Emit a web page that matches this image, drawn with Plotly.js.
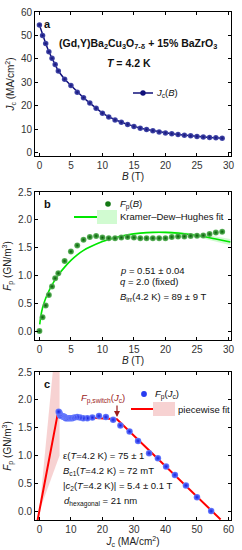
<!DOCTYPE html>
<html><head><meta charset="utf-8">
<script src="https://cdn.plot.ly/plotly-3.0.1.min.js"></script>
<style>html,body{margin:0;padding:0;background:#fff}#chart{width:242px;height:550px}</style>
</head><body><div id="chart"></div>
<script>
// Magnetic field B (T)
const B = [0, 0.5, 1, 1.5, 2, 2.5, 3, 4, 5, 6, 7, 8, 9, 10, 11, 12, 13, 14, 15, 16, 17, 18, 19, 20, 21, 22, 23, 24, 25, 26, 27, 28, 29];
// Critical current density Jc (MA/cm^2)
const Jc = [54.5, 50.0, 46.5, 43.0, 40.2, 37.6, 34.8, 31.3, 28.6, 25.7, 23.4, 21.1, 18.9, 16.8, 15.2, 13.9, 12.9, 12.0, 11.1, 10.4, 9.8, 9.3, 8.8, 8.35, 8.0, 7.7, 7.4, 7.1, 6.85, 6.6, 6.45, 6.3, 6.1];
// Pinning force Fp (GN/m^3)
const Fp = [0, 0.25, 0.46, 0.65, 0.80, 0.95, 1.04, 1.26, 1.43, 1.54, 1.64, 1.69, 1.71, 1.68, 1.67, 1.67, 1.68, 1.69, 1.68, 1.67, 1.67, 1.67, 1.67, 1.67, 1.69, 1.70, 1.70, 1.71, 1.715, 1.72, 1.745, 1.77, 1.785];
// Kramer-Dew-Hughes fit curve
const kdhB  = [0.05, 0.2, 0.5, 1, 1.5, 2, 3, 4, 5, 6, 7, 8, 10, 12, 14, 16, 18, 20, 22, 24, 26, 28, 30.3];
const kdhFp = [0.12, 0.25, 0.42, 0.59, 0.72, 0.83, 1.01, 1.15, 1.27, 1.37, 1.45, 1.51, 1.61, 1.68, 1.73, 1.76, 1.775, 1.775, 1.76, 1.735, 1.70, 1.655, 1.60];
const kdhHi = [0.13, 0.26, 0.43, 0.60, 0.73, 0.84, 1.02, 1.16, 1.28, 1.38, 1.46, 1.52, 1.62, 1.69, 1.74, 1.772, 1.79, 1.795, 1.785, 1.765, 1.735, 1.70, 1.655];
const kdhLo = [0.11, 0.24, 0.41, 0.58, 0.71, 0.82, 1.00, 1.14, 1.26, 1.36, 1.44, 1.50, 1.60, 1.67, 1.72, 1.748, 1.76, 1.755, 1.735, 1.705, 1.665, 1.61, 1.545];
// Piecewise fit (Jc, Fp)
const pwJc = [-0.6, 5.7, 24.6, 57.5];
const pwFp = [-0.17, 1.715, 1.65, -0.15];
const pwBandJc = [0, 4.4, 6.4, 6.4, 0];
const pwBandFp = [0, 2.6, 2.6, 1.0, 0];

const FONT = "'Liberation Sans', Arial, sans-serif";
const L = 35, R = 11, T = 12, BM = 30, W = 242, H = 550;
const PW = W - L - R, PH = H - T - BM;
const px = x => (x - L) / PW;
const py = y => 1 - (y - T) / PH;

const navy = '#10107a';
const traces = [
  {x: B, y: Jc, xaxis: 'x', yaxis: 'y', mode: 'lines+markers', type: 'scatter',
   line: {color: navy, width: 1.5},
   marker: {size: 5.5, color: 'rgb(75,80,175)', gradient: {type: 'radial', color: navy}, line: {width: 0}}},
  {x: kdhB, y: kdhHi, xaxis: 'x2', yaxis: 'y2', mode: 'lines', type: 'scatter', line: {width: 0, color: 'rgba(0,0,0,0)'}},
  {x: kdhB, y: kdhLo, xaxis: 'x2', yaxis: 'y2', mode: 'lines', type: 'scatter', line: {width: 0, color: 'rgba(0,0,0,0)'},
   fill: 'tonexty', fillcolor: 'rgba(190,250,190,0.7)'},
  {x: kdhB, y: kdhFp, xaxis: 'x2', yaxis: 'y2', mode: 'lines', type: 'scatter', line: {color: 'rgb(0,230,0)', width: 1.6, shape: 'spline'}},
  {x: B, y: Fp, xaxis: 'x2', yaxis: 'y2', mode: 'markers', type: 'scatter',
   marker: {size: 6, color: 'rgb(100,185,100)', gradient: {type: 'radial', color: 'rgb(0,95,0)'}, line: {width: 0}}},
  {x: pwBandJc, y: pwBandFp, xaxis: 'x3', yaxis: 'y3', mode: 'lines', type: 'scatter', fill: 'toself',
   fillcolor: 'rgba(242,180,180,0.6)', line: {width: 0, color: 'rgba(0,0,0,0)'}},
  {x: pwJc, y: pwFp, xaxis: 'x3', yaxis: 'y3', mode: 'lines', type: 'scatter', line: {color: '#ff0000', width: 2}},
  {x: Jc, y: Fp, xaxis: 'x3', yaxis: 'y3', mode: 'markers', type: 'scatter',
   marker: {size: 6.5, color: 'rgb(110,130,255)', gradient: {type: 'radial', color: 'rgb(20,30,225)'}, line: {width: 0}}}
];

const axBase = {showline: true, linecolor: '#000', linewidth: 1, mirror: 'ticks', ticks: 'inside', ticklen: 3,
  tickwidth: 1, tickcolor: '#000', showgrid: false, zeroline: false,
  tickfont: {family: FONT, size: 10, color: '#333'}};
const ttl = t => ({text: t, font: {family: FONT, size: 10, color: '#222'}});

const layout = {
  width: W, height: H, margin: {l: L, r: R, t: T, b: BM}, showlegend: false,
  paper_bgcolor: '#fff', plot_bgcolor: '#fff', font: {family: FONT},
  xaxis: Object.assign({}, axBase, {domain: [0, 1], anchor: 'y', range: [-0.7, 30.4], tickvals: [0,5,10,15,20,25,30], title: Object.assign(ttl('<i>B</i> (T)'), {standoff: 2})}),
  yaxis: Object.assign({}, axBase, {domain: [py(156), 1], anchor: 'x', range: [-1.5, 60], tickvals: [0,10,20,30,40,50,60], title: Object.assign(ttl('<i>J</i><sub>c</sub> (MA/cm<sup>2</sup>)'), {standoff: 4})}),
  xaxis2: Object.assign({}, axBase, {domain: [0, 1], anchor: 'y2', range: [-0.7, 30.4], tickvals: [0,5,10,15,20,25,30], title: Object.assign(ttl('<i>B</i> (T)'), {standoff: 2})}),
  yaxis2: Object.assign({}, axBase, {domain: [py(340), py(192)], anchor: 'x2', range: [-0.16, 2.5], tickvals: [0,0.5,1,1.5,2,2.5], tickformat: '.1f', title: Object.assign(ttl('<i>F</i><sub>p</sub> (GN/m<sup>3</sup>)'), {standoff: 4})}),
  xaxis3: Object.assign({}, axBase, {domain: [0, 1], anchor: 'y3', range: [-1.4, 60.8], tickvals: [0,10,20,30,40,50,60], title: Object.assign(ttl('<i>J</i><sub>c</sub> (MA/cm<sup>2</sup>)'), {standoff: 2})}),
  yaxis3: Object.assign({}, axBase, {domain: [0, py(372)], anchor: 'x3', range: [-0.16, 2.5], tickvals: [0,0.5,1,1.5,2,2.5], tickformat: '.1f', title: Object.assign(ttl('<i>F</i><sub>p</sub> (GN/m<sup>3</sup>)'), {standoff: 4})}),
  annotations: [],
  shapes: []
};

function ann(text, x, y, o) {
  o = o || {};
  layout.annotations.push({text: text, x: px(x), y: py(y), xref: 'paper', yref: 'paper', showarrow: false,
    xanchor: o.xa || 'left', yanchor: 'middle', borderpad: 0,
    font: {family: FONT, size: o.size || 9.5, color: o.color || '#111'}});
}
ann('<b>a</b>', 47, 24, {xa: 'center', size: 11});
ann('<b>(Gd,Y)Ba<sub>2</sub>Cu<sub>3</sub>O<sub>7-δ</sub> + 15% BaZrO<sub>3</sub></b>', 138, 44, {xa: 'center', size: 10.5});
ann('<b><i>T</i> = 4.2 K</b>', 129, 63, {xa: 'center', size: 10.5});
ann('<i>J</i><sub>c</sub>(<i>B</i>)', 155, 93);
ann('<b>b</b>', 47, 204, {xa: 'center', size: 11});
ann('<i>F</i><sub>p</sub>(<i>B</i>)', 119, 204);
ann('Kramer–Dew–Hughes fit', 119, 217);
ann('<i>p</i> = 0.51 ± 0.04', 119, 270);
ann('<i>q</i> = 2.0 (fixed)', 119, 281);
ann('<i>B</i><sub>irr</sub>(4.2 K) = 89 ± 9 T', 119, 297);
ann('<b>c</b>', 47, 384, {xa: 'center', size: 11});
ann('<i>F</i><sub>p</sub>(<i>J</i><sub>c</sub>)', 154, 394);
ann('piecewise fit', 177, 409);
ann('<i>F</i><sub>p,switch</sub>(<i>J</i><sub>c</sub>)', 103, 398, {xa: 'center', color: '#9b1c1c'});
ann('ε(<i>T</i>=4.2 K) = 75 ± 1', 62, 455);
ann('<i>B</i><sub>c1</sub>(<i>T</i>=4.2 K) = 72 mT', 62, 471);
ann('|<i>c</i><sub>2</sub>(<i>T</i>=4.2 K)| = 5.4 ± 0.1 T', 62, 486);
ann('<i>d</i><sub>hexagonal</sub> = 21 nm', 63, 501);
layout.annotations.push({text: '', x: px(117), y: py(417), xref: 'paper', yref: 'paper', showarrow: true,
  ax: 0, ay: -13, arrowhead: 2, arrowsize: 1, arrowwidth: 1.2, arrowcolor: '#9b1c1c'});

function line(x0, y0, x1, y1, c, w) {
  layout.shapes.push({type: 'line', xref: 'paper', yref: 'paper', x0: px(x0), y0: py(y0), x1: px(x1), y1: py(y1), line: {color: c, width: w}});
}
function rect(x0, y0, x1, y1, c) {
  layout.shapes.push({type: 'rect', xref: 'paper', yref: 'paper', x0: px(x0), y0: py(y0), x1: px(x1), y1: py(y1), fillcolor: c, line: {width: 0}});
}
function dot(cx, cy, r, c) {
  layout.shapes.push({type: 'circle', xref: 'paper', yref: 'paper', x0: px(cx - r), y0: py(cy - r), x1: px(cx + r), y1: py(cy + r), fillcolor: c, line: {width: 0}});
}
line(133, 93, 153, 93, navy, 1.5); dot(143, 93, 2.7, navy);
dot(108, 204, 2.8, 'rgb(20,120,20)');
line(74, 217, 97, 217, 'rgb(0,230,0)', 2); rect(97, 210, 117, 224, 'rgba(190,250,190,0.7)');
dot(144, 394, 2.9, 'rgb(40,60,240)');
line(131, 409, 153, 409, '#ff0000', 2); rect(153, 402, 175, 416, 'rgba(242,180,180,0.6)');

Plotly.newPlot('chart', traces, layout, {staticPlot: true, displayModeBar: false});
</script></body></html>
